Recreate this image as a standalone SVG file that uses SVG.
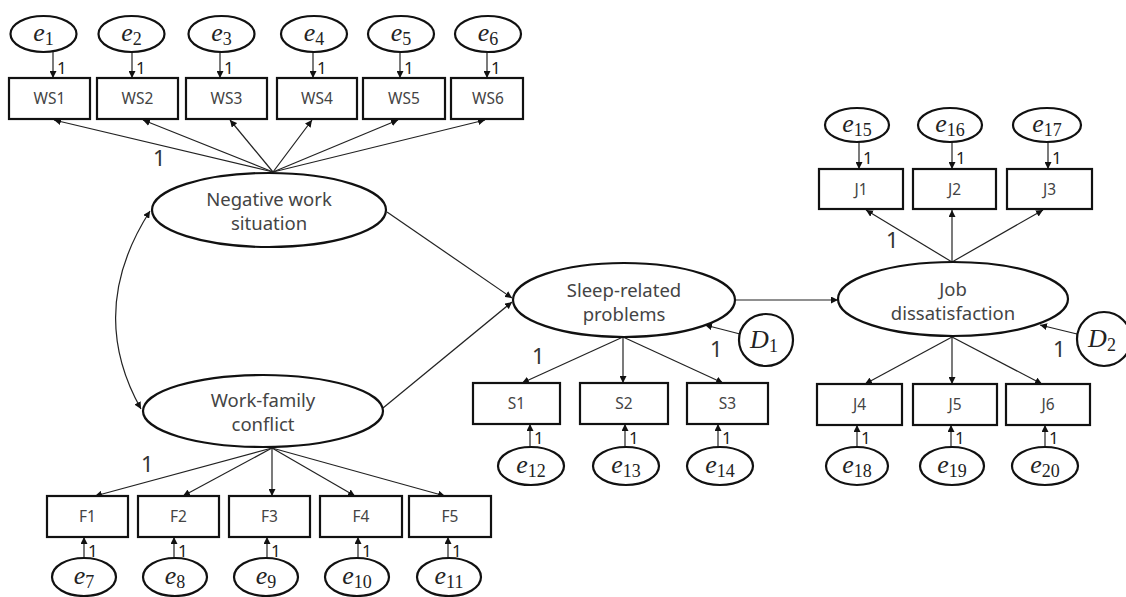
<svg xmlns="http://www.w3.org/2000/svg" width="1126" height="597" viewBox="0 0 1126 597">
<defs>
<marker id="ah" markerUnits="userSpaceOnUse" markerWidth="8" markerHeight="7" refX="7" refY="3.5" orient="auto-start-reverse"><path d="M0,0 L7,3.5 L0,7 z" fill="#111"/></marker>
</defs>
<style>
.box{fill:#fff;stroke:#111;stroke-width:2.2}
.ell{fill:#fff;stroke:#111;stroke-width:2.2}
.c{fill:none;stroke:#222;stroke-width:1.2;marker-end:url(#ah)}
.bt{font-family:"Noto Sans","Open Sans",sans-serif;font-size:15.5px;fill:#444;text-anchor:middle}
.lt{font-family:"Noto Sans","Open Sans",sans-serif;font-size:18.5px;fill:#444;text-anchor:middle}
.one{font-family:"Noto Sans","Open Sans",sans-serif;font-size:17px;fill:#222}
.bone{font-family:"Noto Sans","Open Sans",sans-serif;font-size:22px;fill:#333}
.e{font-family:"Liberation Serif","DejaVu Serif",serif;font-style:italic;font-size:26px;fill:#222;text-anchor:middle}
.sub{font-size:18px;font-style:normal}
</style>
<rect width="1126" height="597" fill="#fff"/>

<g id="connectors">
<line class="c" x1="53" y1="52" x2="53" y2="78"/>
<line class="c" x1="132" y1="52" x2="132" y2="78"/>
<line class="c" x1="220" y1="52" x2="220" y2="78"/>
<line class="c" x1="313" y1="52" x2="313" y2="78"/>
<line class="c" x1="400" y1="52" x2="400" y2="78"/>
<line class="c" x1="487" y1="52" x2="487" y2="78"/>
<line class="c" x1="273" y1="172" x2="54" y2="120"/>
<line class="c" x1="273" y1="172" x2="143" y2="120"/>
<line class="c" x1="273" y1="172" x2="230" y2="120"/>
<line class="c" x1="273" y1="172" x2="312" y2="120"/>
<line class="c" x1="273" y1="172" x2="398" y2="120"/>
<line class="c" x1="273" y1="172" x2="485" y2="120"/>
<path class="c" d="M150,211 Q86,311 141,409" style="marker-start:url(#ah)"/>
<line class="c" x1="387" y1="212" x2="512" y2="298"/>
<line class="c" x1="383" y1="408" x2="512" y2="302"/>
<line class="c" x1="735" y1="300" x2="838" y2="300"/>
<line class="c" x1="740" y1="334" x2="705" y2="325"/>
<line class="c" x1="1077" y1="334" x2="1040" y2="325"/>
<line class="c" x1="272" y1="448" x2="95" y2="496"/>
<line class="c" x1="272" y1="448" x2="183" y2="496"/>
<line class="c" x1="272" y1="448" x2="272" y2="496"/>
<line class="c" x1="272" y1="448" x2="355" y2="496"/>
<line class="c" x1="272" y1="448" x2="445" y2="496"/>
<line class="c" x1="84" y1="558" x2="84" y2="537"/>
<line class="c" x1="174" y1="558" x2="174" y2="537"/>
<line class="c" x1="267" y1="558" x2="267" y2="537"/>
<line class="c" x1="358" y1="558" x2="358" y2="537"/>
<line class="c" x1="448" y1="558" x2="448" y2="537"/>
<line class="c" x1="623" y1="337" x2="522" y2="383"/>
<line class="c" x1="623" y1="337" x2="623" y2="383"/>
<line class="c" x1="623" y1="337" x2="723" y2="383"/>
<line class="c" x1="530" y1="447" x2="530" y2="424"/>
<line class="c" x1="625" y1="447" x2="625" y2="424"/>
<line class="c" x1="718" y1="447" x2="718" y2="424"/>
<line class="c" x1="952" y1="262" x2="866" y2="210"/>
<line class="c" x1="952" y1="262" x2="952" y2="210"/>
<line class="c" x1="952" y1="262" x2="1043" y2="210"/>
<line class="c" x1="952" y1="337" x2="865" y2="384"/>
<line class="c" x1="952" y1="337" x2="952" y2="384"/>
<line class="c" x1="952" y1="337" x2="1042" y2="384"/>
<line class="c" x1="859" y1="142" x2="859" y2="169"/>
<line class="c" x1="952" y1="142" x2="952" y2="169"/>
<line class="c" x1="1048" y1="142" x2="1048" y2="169"/>
<line class="c" x1="857" y1="447" x2="857" y2="425"/>
<line class="c" x1="951" y1="447" x2="951" y2="425"/>
<line class="c" x1="1045" y1="447" x2="1045" y2="425"/>
</g>

<g id="labels">
<text class="one" x="57" y="74">1</text>
<text class="one" x="136" y="74">1</text>
<text class="one" x="224" y="74">1</text>
<text class="one" x="317" y="74">1</text>
<text class="one" x="404" y="74">1</text>
<text class="one" x="491" y="74">1</text>
<text class="bone" x="153" y="166">1</text>
<text class="bone" x="141" y="472">1</text>
<text class="one" x="88" y="557">1</text>
<text class="one" x="178" y="557">1</text>
<text class="one" x="271" y="557">1</text>
<text class="one" x="362" y="557">1</text>
<text class="one" x="452" y="557">1</text>
<text class="bone" x="532" y="364">1</text>
<text class="bone" x="710" y="357">1</text>
<text class="one" x="534" y="444">1</text>
<text class="one" x="629" y="444">1</text>
<text class="one" x="722" y="444">1</text>
<text class="bone" x="886" y="248">1</text>
<text class="bone" x="1053" y="357">1</text>
<text class="one" x="863" y="164">1</text>
<text class="one" x="956" y="164">1</text>
<text class="one" x="1052" y="164">1</text>
<text class="one" x="861" y="444">1</text>
<text class="one" x="955" y="444">1</text>
<text class="one" x="1049" y="444">1</text>
</g>

<g id="e1"><ellipse class="ell" cx="43.5" cy="34" rx="33" ry="18"/><text class="e" x="43.5" y="41">e<tspan class="sub" dy="4">1</tspan></text></g>
<g id="e2"><ellipse class="ell" cx="131.5" cy="34" rx="33" ry="18"/><text class="e" x="131.5" y="41">e<tspan class="sub" dy="4">2</tspan></text></g>
<g id="e3"><ellipse class="ell" cx="221.5" cy="34" rx="33" ry="18"/><text class="e" x="221.5" y="41">e<tspan class="sub" dy="4">3</tspan></text></g>
<g id="e4"><ellipse class="ell" cx="314" cy="34" rx="33" ry="18"/><text class="e" x="314" y="41">e<tspan class="sub" dy="4">4</tspan></text></g>
<g id="e5"><ellipse class="ell" cx="401" cy="34" rx="33" ry="18"/><text class="e" x="401" y="41">e<tspan class="sub" dy="4">5</tspan></text></g>
<g id="e6"><ellipse class="ell" cx="488" cy="34" rx="33" ry="18"/><text class="e" x="488" y="41">e<tspan class="sub" dy="4">6</tspan></text></g>

<g id="WS1"><rect class="box" x="9" y="78" width="81" height="41"/><text class="bt" x="49.5" y="104">WS1</text></g>
<g id="WS2"><rect class="box" x="97" y="78" width="81" height="41"/><text class="bt" x="137.5" y="104">WS2</text></g>
<g id="WS3"><rect class="box" x="186" y="78" width="81" height="41"/><text class="bt" x="226.5" y="104">WS3</text></g>
<g id="WS4"><rect class="box" x="277" y="78" width="80" height="41"/><text class="bt" x="317" y="104">WS4</text></g>
<g id="WS5"><rect class="box" x="363" y="78" width="82" height="41"/><text class="bt" x="404" y="104">WS5</text></g>
<g id="WS6"><rect class="box" x="451" y="78" width="72" height="41"/><text class="bt" x="488" y="104">WS6</text></g>

<g id="nws"><ellipse class="ell" cx="269" cy="210" rx="117" ry="37"/><text class="lt" x="269" y="206">Negative work</text><text class="lt" x="269" y="230">situation</text></g>
<g id="wfc"><ellipse class="ell" cx="263" cy="411" rx="120" ry="36"/><text class="lt" x="263" y="407">Work-family</text><text class="lt" x="263" y="431">conflict</text></g>
<g id="slp"><ellipse class="ell" cx="624" cy="300" rx="111" ry="37"/><text class="lt" x="624" y="297">Sleep-related</text><text class="lt" x="624" y="321">problems</text></g>
<g id="job"><ellipse class="ell" cx="953" cy="299" rx="115" ry="37"/><text class="lt" x="953" y="296">Job</text><text class="lt" x="953" y="320">dissatisfaction</text></g>

<g id="D1"><ellipse class="ell" cx="766" cy="340" rx="27" ry="26"/><text class="e" x="764" y="348">D<tspan class="sub" dy="4">1</tspan></text></g>
<g id="D2"><ellipse class="ell" cx="1104" cy="339" rx="27" ry="27"/><text class="e" x="1102" y="347">D<tspan class="sub" dy="4">2</tspan></text></g>

<g id="F1"><rect class="box" x="47" y="496" width="81" height="41"/><text class="bt" x="87.5" y="522">F1</text></g>
<g id="F2"><rect class="box" x="138" y="496" width="81" height="41"/><text class="bt" x="178.5" y="522">F2</text></g>
<g id="F3"><rect class="box" x="229" y="496" width="81" height="41"/><text class="bt" x="269.5" y="522">F3</text></g>
<g id="F4"><rect class="box" x="320" y="496" width="82" height="41"/><text class="bt" x="361" y="522">F4</text></g>
<g id="F5"><rect class="box" x="409" y="496" width="82" height="41"/><text class="bt" x="450" y="522">F5</text></g>

<g id="e7"><ellipse class="ell" cx="84" cy="577" rx="32" ry="19"/><text class="e" x="84" y="584">e<tspan class="sub" dy="4">7</tspan></text></g>
<g id="e8"><ellipse class="ell" cx="175" cy="577" rx="32" ry="19"/><text class="e" x="175" y="584">e<tspan class="sub" dy="4">8</tspan></text></g>
<g id="e9"><ellipse class="ell" cx="266" cy="577" rx="32" ry="19"/><text class="e" x="266" y="584">e<tspan class="sub" dy="4">9</tspan></text></g>
<g id="e10"><ellipse class="ell" cx="357" cy="577" rx="32" ry="19"/><text class="e" x="357" y="584">e<tspan class="sub" dy="4">10</tspan></text></g>
<g id="e11"><ellipse class="ell" cx="449" cy="577" rx="32" ry="19"/><text class="e" x="449" y="584">e<tspan class="sub" dy="4">11</tspan></text></g>

<g id="S1"><rect class="box" x="473" y="383" width="87" height="41"/><text class="bt" x="516.5" y="409">S1</text></g>
<g id="S2"><rect class="box" x="580" y="383" width="88" height="41"/><text class="bt" x="624" y="409">S2</text></g>
<g id="S3"><rect class="box" x="687" y="383" width="81" height="41"/><text class="bt" x="727.5" y="409">S3</text></g>

<g id="e12"><ellipse class="ell" cx="531" cy="466" rx="33" ry="19"/><text class="e" x="531" y="473">e<tspan class="sub" dy="4">12</tspan></text></g>
<g id="e13"><ellipse class="ell" cx="626" cy="466" rx="33" ry="19"/><text class="e" x="626" y="473">e<tspan class="sub" dy="4">13</tspan></text></g>
<g id="e14"><ellipse class="ell" cx="720" cy="466" rx="33" ry="19"/><text class="e" x="720" y="473">e<tspan class="sub" dy="4">14</tspan></text></g>

<g id="e15"><ellipse class="ell" cx="857" cy="125" rx="32" ry="17"/><text class="e" x="857" y="132">e<tspan class="sub" dy="4">15</tspan></text></g>
<g id="e16"><ellipse class="ell" cx="950" cy="125" rx="32" ry="17"/><text class="e" x="950" y="132">e<tspan class="sub" dy="4">16</tspan></text></g>
<g id="e17"><ellipse class="ell" cx="1047" cy="125" rx="34" ry="17"/><text class="e" x="1047" y="132">e<tspan class="sub" dy="4">17</tspan></text></g>

<g id="J1"><rect class="box" x="819" y="169" width="84" height="40"/><text class="bt" x="861" y="195">J1</text></g>
<g id="J2"><rect class="box" x="913" y="169" width="83" height="40"/><text class="bt" x="954.5" y="195">J2</text></g>
<g id="J3"><rect class="box" x="1007" y="169" width="85" height="40"/><text class="bt" x="1049.5" y="195">J3</text></g>

<g id="J4"><rect class="box" x="817" y="384" width="85" height="41"/><text class="bt" x="859.5" y="410">J4</text></g>
<g id="J5"><rect class="box" x="913" y="384" width="84" height="41"/><text class="bt" x="955" y="410">J5</text></g>
<g id="J6"><rect class="box" x="1006" y="384" width="84" height="41"/><text class="bt" x="1048" y="410">J6</text></g>

<g id="e18"><ellipse class="ell" cx="857" cy="466" rx="31" ry="19"/><text class="e" x="857" y="473">e<tspan class="sub" dy="4">18</tspan></text></g>
<g id="e19"><ellipse class="ell" cx="952" cy="466" rx="32" ry="19"/><text class="e" x="952" y="473">e<tspan class="sub" dy="4">19</tspan></text></g>
<g id="e20"><ellipse class="ell" cx="1045" cy="466" rx="33" ry="19"/><text class="e" x="1045" y="473">e<tspan class="sub" dy="4">20</tspan></text></g>
</svg>
